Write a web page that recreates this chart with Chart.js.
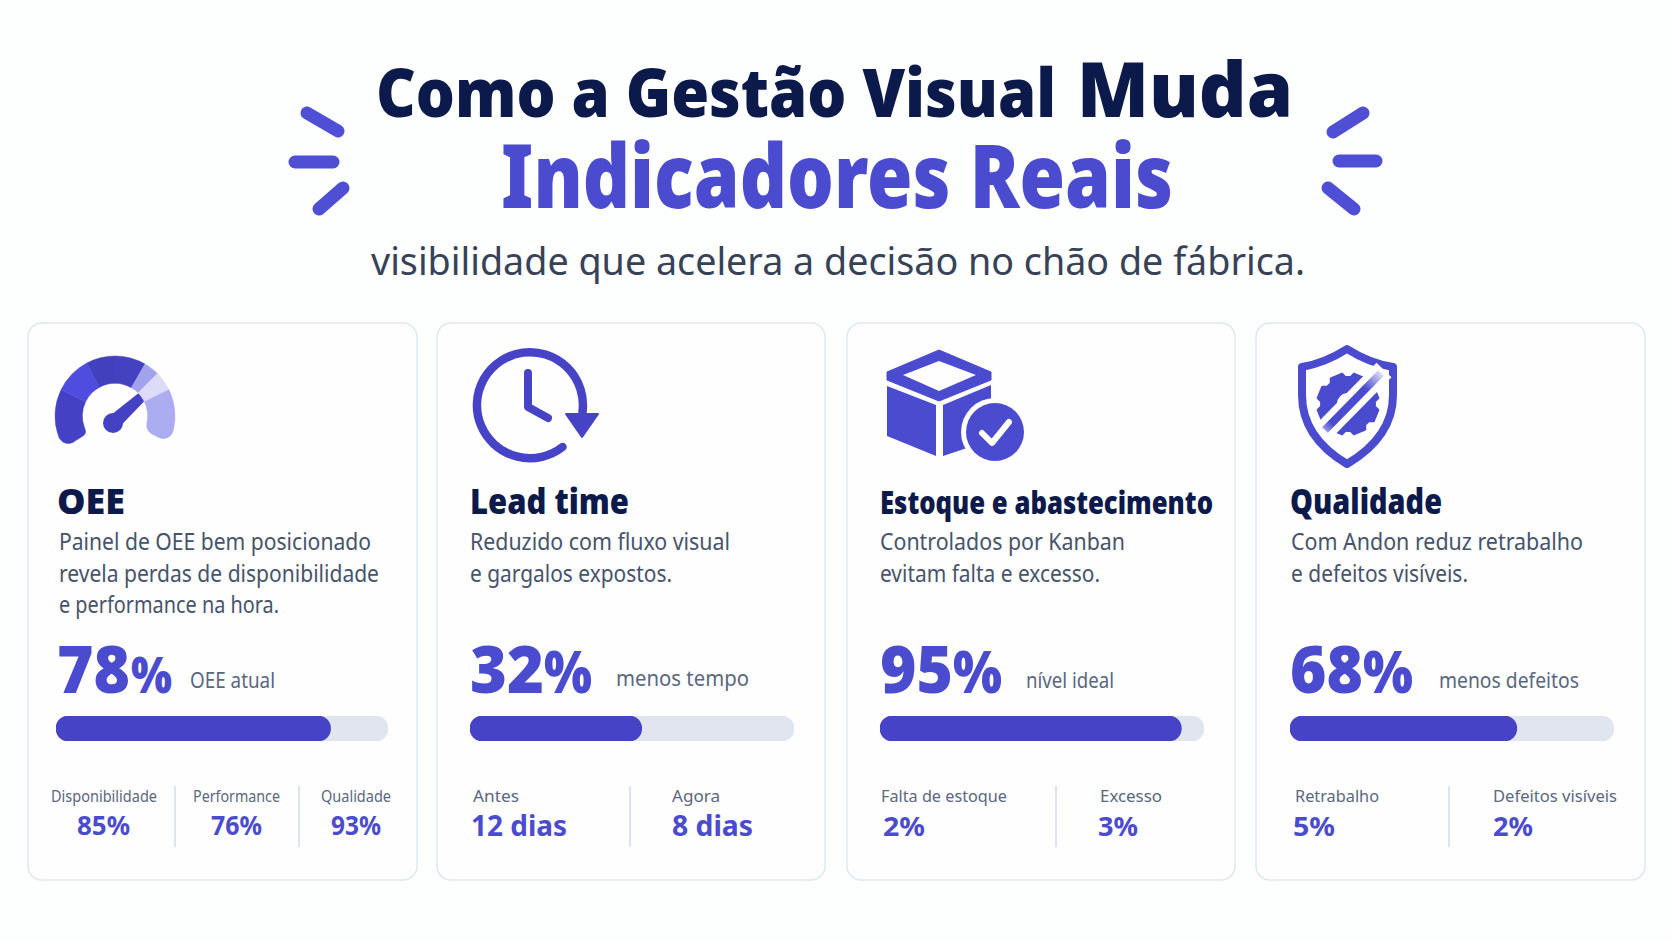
<!DOCTYPE html>
<html lang="pt-BR">
<head>
<meta charset="utf-8">
<title>Como a Gestão Visual Muda Indicadores Reais</title>
<script src="https://cdn.jsdelivr.net/npm/chart.js@4/dist/chart.umd.min.js"></script>
<style>
  html, body { margin: 0; padding: 0; background: #fdfefe; }
  #stage { position: relative; width: 1672px; height: 941px; overflow: hidden; }
  #art { position: absolute; left: 0; top: 0; }
  canvas { position: absolute; }
  text { font-family: "Noto Sans", sans-serif; }
</style>
</head>
<body>
<div id="stage">
  <svg id="art" width="1672" height="941" xmlns="http://www.w3.org/2000/svg"></svg>
  <canvas id="gauge" style="left:45px;top:346px"></canvas>
  <canvas id="bar0" style="left:56px;top:716px"></canvas>
  <canvas id="bar1" style="left:470px;top:716px"></canvas>
  <canvas id="bar2" style="left:880px;top:716px"></canvas>
  <canvas id="bar3" style="left:1290px;top:716px"></canvas>
</div>
<script>
// values
const cardTitles = ["OEE", "Lead time", "Estoque e abastecimento", "Qualidade"];
const bigNumbers = ["78", "32", "95", "68"];
const bigCaptions = ["OEE atual", "menos tempo", "nível ideal", "menos defeitos"];
const barFill = [82.7, 53, 93, 70];
const barTrack = [100, 100, 100, 100];
const gaugeSegments = [58, 36, 28, 30, 15, 19, 52, 122];
const gaugeColors = ["#4441c4", "#4e4de0", "#4340bd", "#4542c2", "#a3a2ec", "#dcdcf8", "#acacf0", "rgba(0,0,0,0)"];

const INDIGO = "#4a4bcf", NAVY = "#0c1a4b", SLATE = "#46536b", GREY = "#5a6780", WHITE = "#fefefe";
const art = document.getElementById("art");

function el(name, attrs, parent) {
  const n = document.createElementNS("http://www.w3.org/2000/svg", name);
  for (const k in attrs) n.setAttribute(k, attrs[k]);
  (parent || art).appendChild(n);
  return n;
}

// text fitted to the width it has in the reference
function txt(str, x, base, size, weight, color, right) {
  const n = el("text", { x: x, y: base, fill: color, "font-size": size, "font-weight": weight });
  n.textContent = str;
  n.setAttribute("textLength", right - x);
  n.setAttribute("lengthAdjust", "spacingAndGlyphs");
}

function line(x1, y1, x2, y2, color, w) {
  el("line", { x1, y1, x2, y2, stroke: color, "stroke-width": w, "stroke-linecap": "round" });
}

// cards
[[28, 417], [437, 825], [847, 1235], [1256, 1645]].forEach(c => {
  el("rect", { x: c[0], y: 323, width: c[1] - c[0], height: 557, rx: 14, fill: WHITE, stroke: "#dfe8f0", "stroke-width": 1.5 });
});

// header
txt("Como a Gestão Visual", 376, 117, 67, 900, NAVY, 1056);
txt("Muda", 1077, 117, 76, 900, NAVY, 1293);
txt("Indicadores Reais", 501, 208, 88, 900, INDIGO, 1173);
txt("visibilidade que acelera a decisão no chão de fábrica.", 371, 275, 38, 400, "#374258", 1305);

[[307, 113, 338, 131], [295, 162, 333, 162], [319, 209, 343, 188],
 [1333, 132, 1363, 113], [1339, 161, 1376, 161], [1328, 188, 1354, 209]].forEach(s => {
  line(s[0], s[1], s[2], s[3], "#4f4fd6", 13);
});

// card headings and descriptions
txt(cardTitles[0], 57, 514, 36, 900, NAVY, 125);
txt(cardTitles[1], 470, 514, 36, 900, NAVY, 629);
txt(cardTitles[2], 880, 514, 32, 900, NAVY, 1213);
txt(cardTitles[3], 1290, 514, 36, 900, NAVY, 1442);

txt("Painel de OEE bem posicionado", 59, 550, 24, 400, SLATE, 371);
txt("revela perdas de disponibilidade", 59, 582, 24, 400, SLATE, 379);
txt("e performance na hora.", 59, 613, 24, 400, SLATE, 279);
txt("Reduzido com fluxo visual", 470, 550, 24, 400, SLATE, 730);
txt("e gargalos expostos.", 470, 582, 24, 400, SLATE, 672);
txt("Controlados por Kanban", 880, 550, 24, 400, SLATE, 1125);
txt("evitam falta e excesso.", 880, 582, 24, 400, SLATE, 1100);
txt("Com Andon reduz retrabalho", 1291, 550, 24, 400, SLATE, 1583);
txt("e defeitos visíveis.", 1291, 582, 24, 400, SLATE, 1468);

// big numbers
txt(bigNumbers[0], 57, 693, 66, 900, INDIGO, 130);
txt("%", 131, 693, 50, 900, INDIGO, 172);
txt(bigNumbers[1], 470, 693, 66, 900, INDIGO, 544);
txt("%", 544, 693, 58, 900, INDIGO, 592);
txt(bigNumbers[2], 880, 693, 66, 900, INDIGO, 953);
txt("%", 953, 693, 58, 900, INDIGO, 1002);
txt(bigNumbers[3], 1290, 693, 66, 900, INDIGO, 1363);
txt("%", 1363, 693, 58, 900, INDIGO, 1413);

txt(bigCaptions[0], 190, 688, 22, 400, GREY, 275);
txt(bigCaptions[1], 616, 686, 22, 400, GREY, 749);
txt(bigCaptions[2], 1026, 688, 22, 400, GREY, 1114);
txt(bigCaptions[3], 1439, 688, 22, 400, GREY, 1579);

// small stats at the foot of each card
txt("Disponibilidade", 51, 802, 17, 400, GREY, 157);
txt("Performance", 193, 802, 17, 400, GREY, 280);
txt("Qualidade", 321, 802, 17, 400, GREY, 391);
txt("85%", 77, 835, 27, 700, INDIGO, 130);
txt("76%", 211, 835, 27, 700, INDIGO, 262);
txt("93%", 331, 835, 27, 700, INDIGO, 381);

txt("Antes", 473, 802, 17, 400, GREY, 519);
txt("Agora", 672, 802, 17, 400, GREY, 720);
txt("12 dias", 471, 836, 29, 700, INDIGO, 567);
txt("8 dias", 672, 836, 29, 700, INDIGO, 753);

txt("Falta de estoque", 881, 802, 17, 400, GREY, 1007);
txt("Excesso", 1100, 802, 17, 400, GREY, 1162);
txt("2%", 883, 836, 27, 700, INDIGO, 925);
txt("3%", 1098, 836, 27, 700, INDIGO, 1138);

txt("Retrabalho", 1295, 802, 17, 400, GREY, 1379);
txt("Defeitos visíveis", 1493, 802, 17, 400, GREY, 1617);
txt("5%", 1293, 836, 27, 700, INDIGO, 1335);
txt("2%", 1493, 836, 27, 700, INDIGO, 1533);

[175, 299, 630, 1056, 1449].forEach(x => {
  el("line", { x1: x, y1: 786, x2: x, y2: 847, stroke: "#d5dbe6", "stroke-width": 1.5 });
});

// gauge needle
el("path", { d: "M110 417 L139 394 L144 400 L118 427 Z", fill: "#4441c4", stroke: "#4441c4", "stroke-width": 2, "stroke-linejoin": "round" });
el("circle", { cx: 113, cy: 423, r: 10, fill: "#4441c4" });

// clock icon
el("path", { d: "M582.5 412 A 53 53 0 1 0 562.5 447", fill: "none", stroke: "#4643c6", "stroke-width": 8.5, "stroke-linecap": "round" });
el("path", { d: "M566 414 L598 414 L582 437 Z", fill: "#4643c6", stroke: "#4643c6", "stroke-width": 2, "stroke-linejoin": "round" });
el("path", { d: "M528 373 L528 407 L548 418", fill: "none", stroke: "#4643c6", "stroke-width": 8, "stroke-linecap": "round", "stroke-linejoin": "round" });

// box icon
el("path", { d: "M887 372 L939 350 L991 372 L991 380 L939 401 L887 380 Z", fill: INDIGO, stroke: INDIGO, "stroke-linejoin": "round" });
el("path", { d: "M939 361 L976 375 L939 391 L903 375 Z", fill: WHITE });
el("path", { d: "M887 386 L936 405 L936 456 L887 436 Z", fill: INDIGO });
el("path", { d: "M943 405 L991 385 L991 440 L943 456 Z", fill: INDIGO });
el("circle", { cx: 995, cy: 432, r: 34, fill: WHITE });
el("circle", { cx: 995, cy: 432, r: 29, fill: INDIGO });
el("path", { d: "M982 433 L992 443 L1009 422", fill: "none", stroke: WHITE, "stroke-width": 6, "stroke-linecap": "round", "stroke-linejoin": "round" });

// shield icon
el("path", { d: "M1347 349 Q1325 363 1302 367 L1302 395 C1302 430 1325 451 1347 464 C1369 451 1393 430 1393 395 L1393 367 Q1369 363 1347 349 Z", fill: WHITE, stroke: INDIGO, "stroke-width": 8, "stroke-linejoin": "round" });
let gear = "";
for (let i = 0; i < 8; i++) {
  const a = i * Math.PI / 4 + Math.PI / 8;
  [[-0.3, 27], [-0.2, 31], [0.2, 31], [0.3, 27]].forEach((p, j) => {
    const px = 1348 + p[1] * Math.cos(a + p[0]), py = 404 + p[1] * Math.sin(a + p[0]);
    gear += (i === 0 && j === 0 ? "M" : "L") + px.toFixed(1) + " " + py.toFixed(1) + " ";
  });
}
el("path", { d: gear + "Z M1360 404 A12 12 0 1 0 1336 404 A12 12 0 1 0 1360 404 Z", fill: INDIGO, "fill-rule": "evenodd", stroke: INDIGO, "stroke-width": 2, "stroke-linejoin": "round" });
const defs = el("defs", {});
const grad = el("linearGradient", { id: "slash", gradientUnits: "userSpaceOnUse", x1: 1325, y1: 430, x2: 1381, y2: 373 }, defs);
[["0", "#9a9aea"], ["0.12", INDIGO], ["0.72", INDIGO], ["1", "#dcdcf8"]].forEach(s => {
  el("stop", { offset: s[0], "stop-color": s[1] }, grad);
});
el("line", { x1: 1322, y1: 433, x2: 1384, y2: 370, stroke: WHITE, "stroke-width": 21 });
el("line", { x1: 1325, y1: 430, x2: 1381, y2: 373, stroke: "url(#slash)", "stroke-width": 8 });

// charts
Chart.defaults.animation = false;
Chart.defaults.responsive = false;

const gaugeCv = document.getElementById("gauge");
gaugeCv.width = 140;
gaugeCv.height = 140;
new Chart(gaugeCv, {
  type: "doughnut",
  data: {
    labels: gaugeColors.map((c, i) => "s" + i),
    datasets: [{
      data: gaugeSegments,
      backgroundColor: gaugeColors,
      borderColor: gaugeColors,
      borderWidth: 0.5,
      borderRadius: ctx => {
        if (ctx.dataIndex === 0) return { outerStart: 10, innerStart: 6, outerEnd: 0, innerEnd: 0 };
        if (ctx.dataIndex === 6) return { outerStart: 0, innerStart: 0, outerEnd: 10, innerEnd: 10 };
        return 0;
      }
    }]
  },
  options: {
    rotation: -122,
    radius: 60,
    cutout: 38,
    plugins: { legend: { display: false }, tooltip: { enabled: false } }
  }
});

const barWidths = [332, 324, 324, 324];
barFill.forEach((v, i) => {
  const cv = document.getElementById("bar" + i);
  cv.width = barWidths[i];
  cv.height = 25;
  new Chart(cv, {
    type: "bar",
    data: {
      labels: [cardTitles[i]],
      datasets: [
        { data: [v], backgroundColor: "#4643c6", order: 1, borderRadius: 13, borderSkipped: false, barThickness: 25 },
        { data: [barTrack[i]], backgroundColor: "#e1e5ef", order: 2, borderRadius: 13, borderSkipped: false, barThickness: 25 }
      ]
    },
    options: {
      indexAxis: "y",
      layout: { padding: 0 },
      datasets: { bar: { grouped: false } },
      scales: {
        x: { display: false, min: 0, max: 100 },
        y: { display: false }
      },
      plugins: { legend: { display: false }, tooltip: { enabled: false } }
    }
  });
});
</script>
</body>
</html>
